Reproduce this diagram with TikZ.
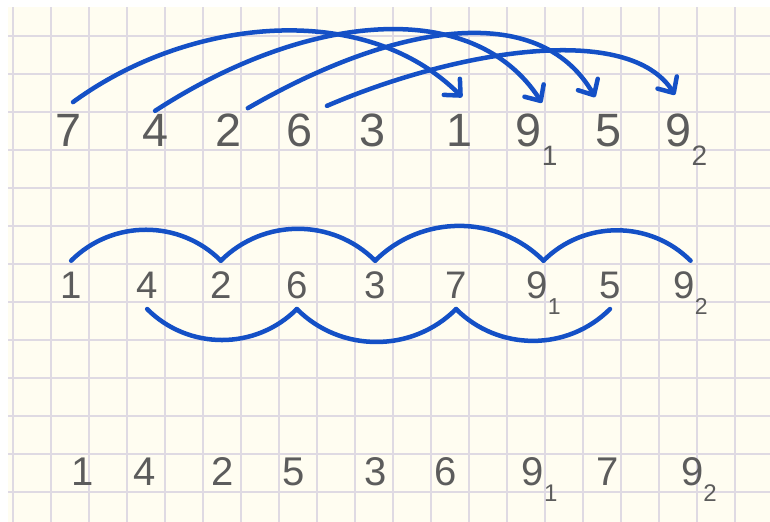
\documentclass[tikz,border=0pt]{standalone}
\usepackage{fontspec}
\usepackage{graphicx}
\setmainfont{Liberation Sans}
\usetikzlibrary{arrows.meta}

\definecolor{paperbg}{HTML}{FFFDF1}
\definecolor{gridlilac}{HTML}{DFDAE3}
\definecolor{pencil}{HTML}{5C5C5C}
\definecolor{inkblue}{HTML}{1450C6}

\newcommand{\handsize}[1]{\fontsize{#1}{#1}\selectfont}
\newcommand{\lowidx}[1]{\raisebox{-0.4em}{\scalebox{0.6}{#1}}}

\tikzset{
  gridline/.style={draw=gridlilac, line width=0.8pt},
  digit/.style={text=pencil, inner sep=0pt, text height=#1*0.72pt, text depth=0pt, font=\handsize{#1}},
  digit/.default=24,
  linked/.style={digit=23, inner ysep=6pt},
  pen/.style={draw=inkblue, line width=2.7pt, line cap=round},
  move/.style={pen, -{Straight Barb[length=2.6mm,width=4.8mm,round]}},
  hump/.style={pen, out=45, in=135},
  dip/.style={pen, out=-45, in=-135},
}

\begin{document}
\begin{tikzpicture}[x=0.8cm,y=0.8cm]
  % squared paper
  \useasboundingbox[fill=white] (-0.342,-0.789) rectangle (19.921,12.947);
  \fill[paperbg] (-0.13,-0.789) rectangle (19.921,12.763);
  \foreach \i in {0,...,19}
    \draw[gridline] (\i,-0.789) -- (\i,12.763);
  \foreach \j in {0,...,12}
    \draw[gridline] (-0.13,\j) -- (19.921,\j);

  % first row
  \node[digit=28] (a7)  at (1.47,9.53)  {7};
  \node[digit=28] (a4)  at (3.74,9.53)  {4};
  \node[digit=28] (a2)  at (5.66,9.53)  {2};
  \node[digit=28] (a6)  at (7.55,9.53)  {6};
  \node[digit=28] (a3)  at (9.47,9.53)  {3};
  \node[digit=28] (a1)  at (11.74,9.53) {1};
  \node[digit=28] (a91) at (13.78,9.53) {9\lowidx{1}};
  \node[digit=28] (a5)  at (15.68,9.53) {5};
  \node[digit=28] (a92) at (17.72,9.53) {9\lowidx{2}};

  \draw[move] ([shift={(0.11,0.73)}]a7.center) .. controls +(3.0,2.2) and +(-2.6,2.6) .. ([shift={(0.08,0.86)}]a1.center);
  \draw[move] ([shift={(0,0.5)}]a4.center) .. controls +(4.0,2.6) and +(-1.8,2.8) .. ([shift={(0.14,0.71)}]a91.center);
  \draw[move] ([shift={(0.52,0.57)}]a2.center) .. controls +(3.8,2.2) and +(-1.5,2.6) .. ([shift={(-0.36,0.86)}]a5.center);
  \draw[move] ([shift={(0.71,0.63)}]a6.center) .. controls +(3.5,1.5) and +(-1.2,1.9) .. ([shift={(-0.30,0.92)}]a92.center);

  % second row
  \node[linked] (b1)  at (1.53,5.45)  {1};
  \node[linked] (b4)  at (3.53,5.45)  {4};
  \node[linked] (b2)  at (5.47,5.45)  {2};
  \node[linked] (b6)  at (7.47,5.45)  {6};
  \node[linked] (b3)  at (9.53,5.45)  {3};
  \node[linked] (b7)  at (11.66,5.45) {7};
  \node[linked] (b91) at (13.96,5.45) {9\lowidx{1}};
  \node[linked] (b5)  at (15.71,5.45) {5};
  \node[linked] (b92) at (17.83,5.45) {9\lowidx{2}};

  \draw[hump] (b1.north) to (b2.north);
  \draw[hump] (b2.north) to (b3.north);
  \draw[hump] (b3.north) to (b91.north);
  \draw[hump] (b91.north) to (b92.north);
  \draw[dip] (b4.south) to (b6.south);
  \draw[dip] (b6.south) to (b7.south);
  \draw[dip] (b7.south) to (b5.south);

  % third row
  \node[digit] (c1)  at (1.84,0.55)  {1};
  \node[digit] (c4)  at (3.47,0.55)  {4};
  \node[digit] (c2)  at (5.53,0.55)  {2};
  \node[digit] (c5)  at (7.39,0.55)  {5};
  \node[digit] (c3)  at (9.53,0.55)  {3};
  \node[digit] (c6)  at (11.39,0.55) {6};
  \node[digit] (c91) at (13.86,0.55) {9\lowidx{1}};
  \node[digit] (c7)  at (15.66,0.55) {7};
  \node[digit] (c92) at (18.05,0.55) {9\lowidx{2}};
\end{tikzpicture}
\end{document}
